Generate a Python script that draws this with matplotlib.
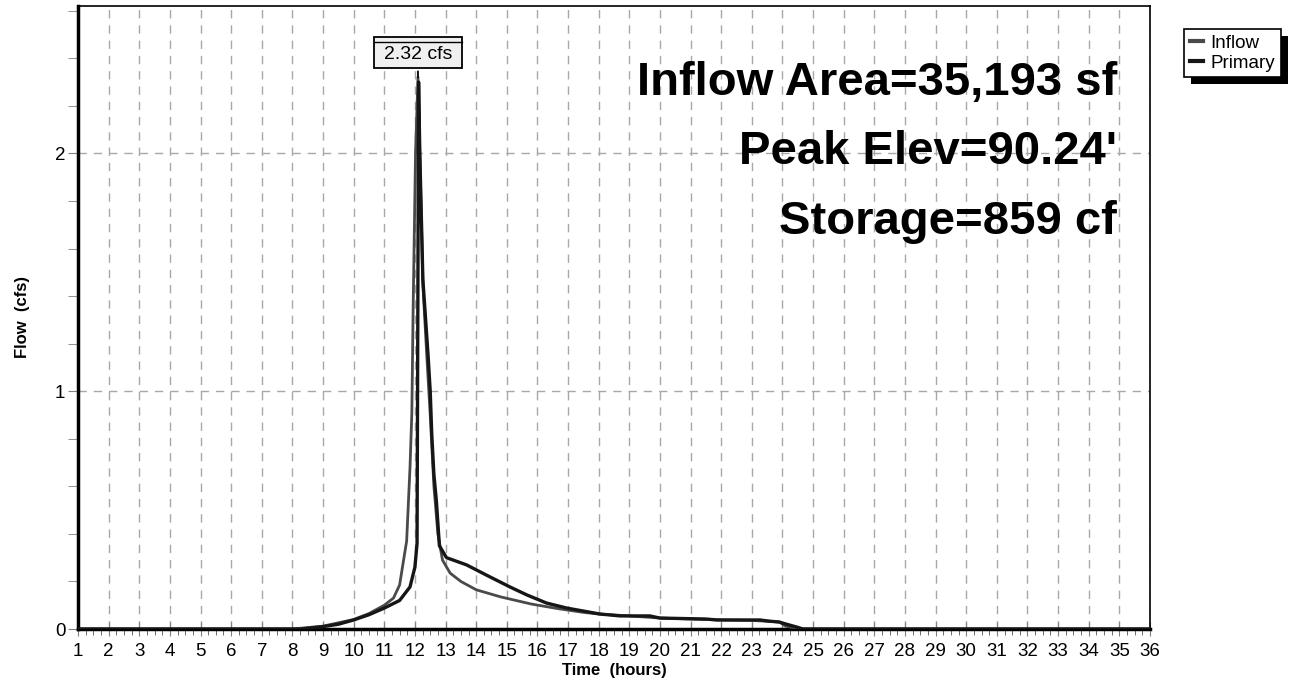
import matplotlib
matplotlib.use("Agg")
import matplotlib.pyplot as plt
from matplotlib.patches import Rectangle
from matplotlib.lines import Line2D
from matplotlib.text import Text
from matplotlib.transforms import IdentityTransform
from matplotlib.ticker import MultipleLocator

plt.rcParams['font.family'] = ['Liberation Sans', 'DejaVu Sans']

# hydrograph values (hours, cfs)
inflow_hours = [1, 8.0, 9.0, 10.0, 10.5, 11.0, 11.3, 11.5, 11.73, 11.84, 11.9, 11.94, 12.02, 12.1,
                12.16, 12.26, 12.4, 12.5, 12.62, 12.75, 12.9, 13.15, 13.5, 14.0, 14.8, 15.8,
                16.7, 17.5, 18.0, 19.0, 20.0, 21.0, 22.0, 23.0, 23.9, 24.1, 24.6, 36]
inflow_cfs = [0, 0, 0.012, 0.04, 0.065, 0.1, 0.13, 0.185, 0.37, 0.68, 0.91, 1.33, 2.0, 2.32,
              2.0, 1.45, 1.12, 0.9, 0.6, 0.4, 0.29, 0.235, 0.2, 0.165, 0.135, 0.105,
              0.085, 0.07, 0.063, 0.055, 0.046, 0.042, 0.038, 0.036, 0.03, 0.012, 0.0, 0]

primary_hours = [1, 8.3, 9.0, 9.5, 10.0, 10.5, 11.0, 11.5, 11.84, 12.0, 12.07, 12.12, 12.16,
                 12.26, 12.43, 12.5, 12.55, 12.62, 12.7, 12.8, 13.03, 13.68, 14.33, 15.1,
                 15.66, 16.3, 16.96, 18.04, 18.7, 19.67, 20.0, 21.5, 21.86, 23.27, 23.5,
                 23.9, 24.0, 24.47, 24.67, 36]
primary_cfs = [0, 0, 0.01, 0.02, 0.038, 0.06, 0.088, 0.12, 0.177, 0.26, 0.36, 2.3, 2.0,
               1.47, 1.15, 1.0, 0.82, 0.65, 0.54, 0.35, 0.30, 0.27, 0.227, 0.177,
               0.143, 0.109, 0.088, 0.063, 0.055, 0.055, 0.046, 0.042, 0.038, 0.038, 0.034,
               0.029, 0.025, 0.008, 0.0, 0]

peak_label = "2.32 cfs"
summary = ["Inflow Area=35,193 sf", "Peak Elev=90.24'", "Storage=859 cf"]

fig = plt.figure(figsize=(12.94, 6.86), dpi=100)
ax = fig.add_axes([78/1294, 57/686, 1072/1294, 623/686])

ax.plot(inflow_hours, inflow_cfs, color="#4a4a4a", lw=2.0, label="Inflow", zorder=3)
ax.plot(primary_hours, primary_cfs, color="#161616", lw=2.4, label="Primary", zorder=4)

ax.set_xlim(1, 36)
ax.set_ylim(0, 2.62)
ax.xaxis.set_major_locator(MultipleLocator(1))
ax.xaxis.set_minor_locator(MultipleLocator(0.25))
ax.yaxis.set_major_locator(MultipleLocator(1))
ax.yaxis.set_minor_locator(MultipleLocator(0.2))

ax.grid(True, which="major", color="#a8a8a8", linestyle=(0, (6, 5)), lw=1.0)
ax.tick_params(axis="x", which="major", direction="inout", length=10, color="#808080",
               labelsize=13.5, pad=5)
ax.tick_params(axis="x", which="minor", direction="out", length=4, color="#555555")
ax.tick_params(axis="y", which="major", direction="out", length=7, color="#808080",
               labelsize=13.5, pad=2)
ax.tick_params(axis="y", which="minor", direction="out", length=7, color="#808080")

for side in ["left", "bottom"]:
    ax.spines[side].set_linewidth(2.5)
for side in ["top", "right"]:
    ax.spines[side].set_linewidth(1.2)

ax.set_xlabel("Time  (hours)", fontsize=12, fontweight="bold", labelpad=2)
ax.set_ylabel("Flow  (cfs)", fontsize=12, fontweight="bold", labelpad=18)

# summary text, right aligned
for i, line in enumerate(summary):
    ax.text(0.969, 0.876 - i * 0.111, line, transform=ax.transAxes, ha="right", va="center",
            fontsize=34, fontweight="bold", color="black", zorder=6)

# peak label (box drawn after layout)
pk = inflow_cfs.index(max(inflow_cfs))
peak_txt = ax.annotate(peak_label, xy=(inflow_hours[pk], inflow_cfs[pk]),
                       xytext=(inflow_hours[pk], inflow_cfs[pk] + 0.096),
                       ha="center", va="center", fontsize=14,
                       arrowprops=dict(arrowstyle="-", color="black", lw=1.3,
                                       shrinkA=4, shrinkB=0),
                       zorder=7)

leg = fig.legend(loc="upper left", bbox_to_anchor=(1184/1294, 1 - 29/686), borderaxespad=0,
                 fontsize=13.5, handlelength=0.7, handletextpad=0.4, borderpad=0.3,
                 labelspacing=0.15, fancybox=False, framealpha=1, edgecolor="black")
leg.get_frame().set_linewidth(1.2)
for h in leg.get_lines():
    h.set_linewidth(3)

fig.canvas.draw()
W, H = fig.get_size_inches() * fig.dpi
bb = leg.get_window_extent()
fig.patches.append(Rectangle(((bb.x0 + 7) / W, (bb.y0 - 7) / H), bb.width / W, bb.height / H,
                             transform=fig.transFigure, fc="black", ec="none", zorder=1))

# peak box with the double top edge
tb = Text.get_window_extent(peak_txt)
bx0, bx1 = tb.x0 - 10, tb.x1 + 10
by0, by1 = tb.y0 - 5, tb.y1 + 9
ax.add_patch(Rectangle((bx0, by0), bx1 - bx0, by1 - by0, transform=IdentityTransform(),
                       fc="#f0f0f0", ec="black", lw=1.3, zorder=6.5, clip_on=False))
ax.add_line(Line2D([bx0, bx1], [by1 - 5, by1 - 5], transform=IdentityTransform(),
                   color="black", lw=1.0, zorder=6.6, clip_on=False))

fig.savefig("out.png", dpi=100)
